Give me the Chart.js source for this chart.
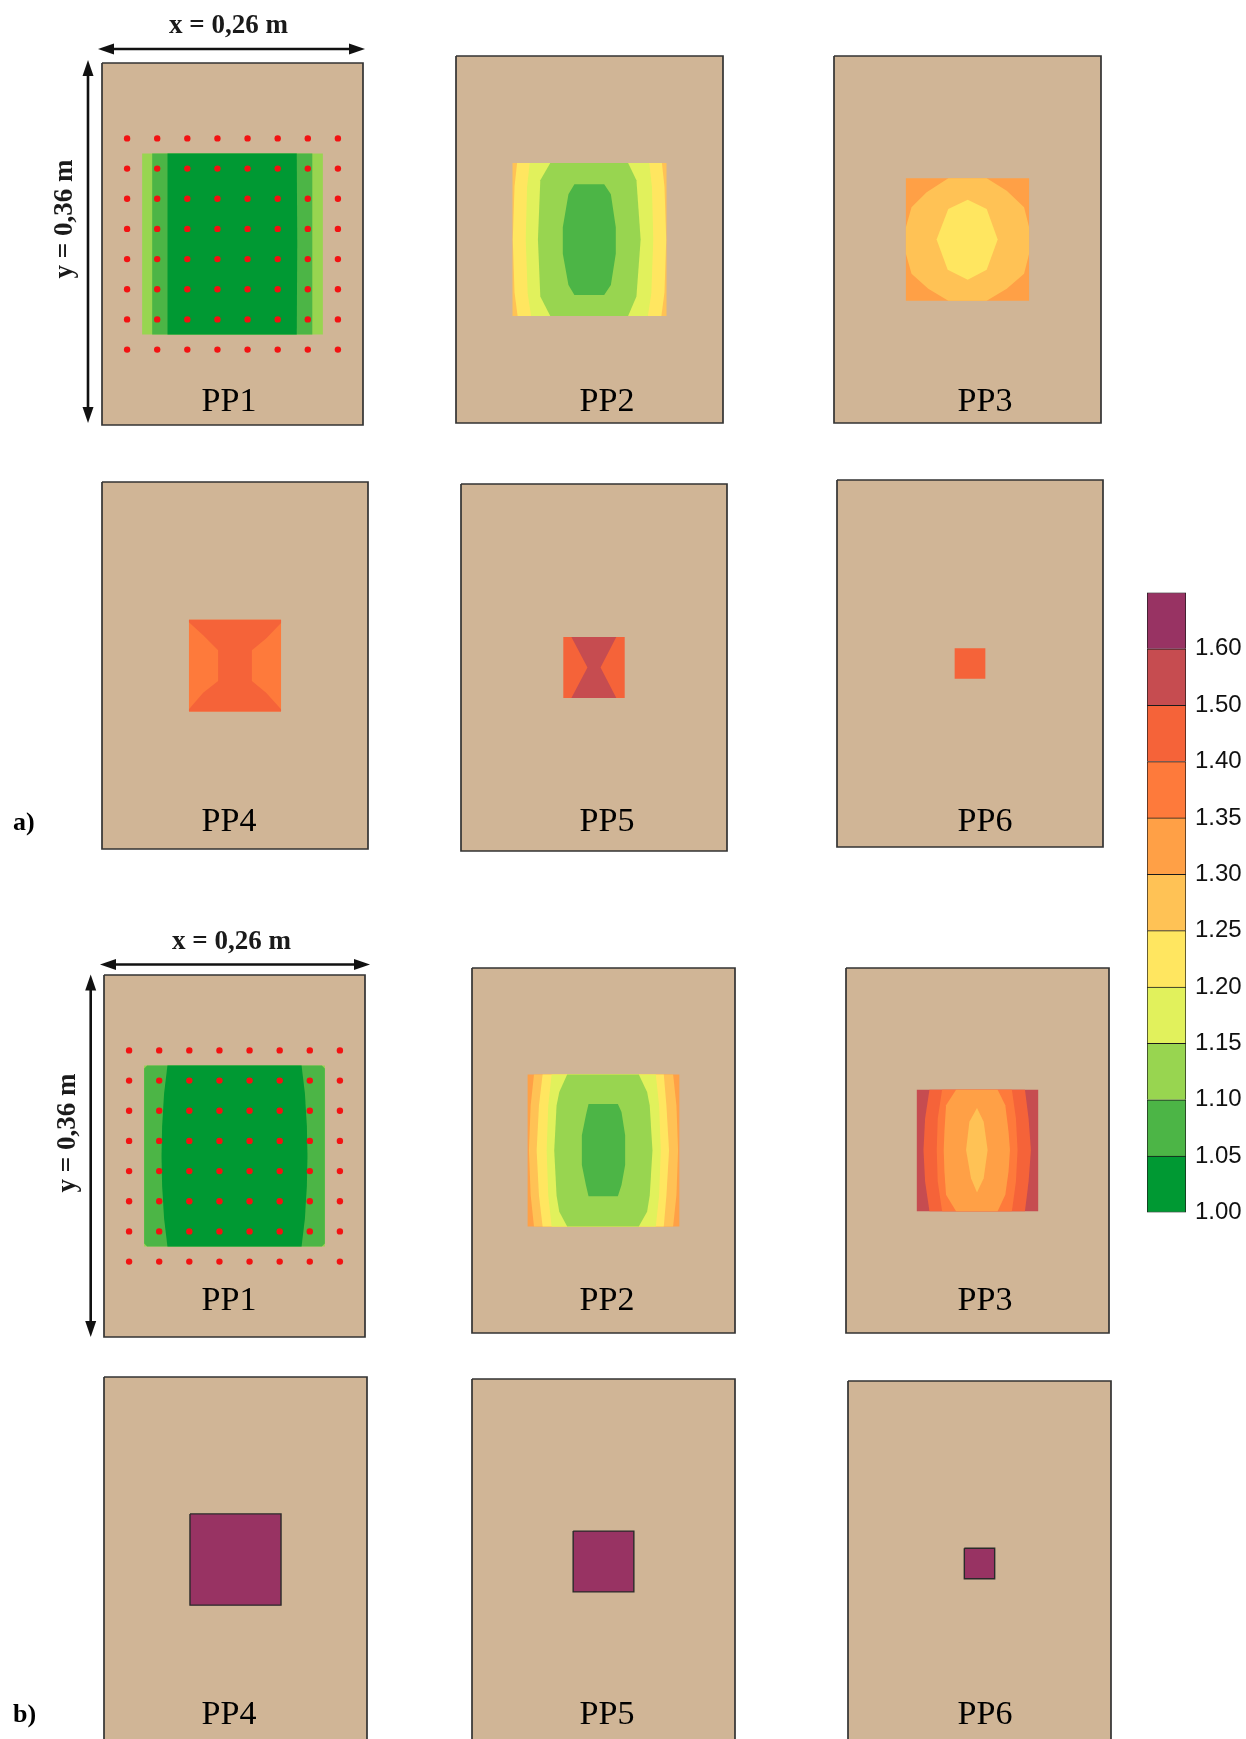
<!DOCTYPE html>
<html><head><meta charset="utf-8">
<script src="https://cdn.jsdelivr.net/npm/chart.js@4.4.1/dist/chart.umd.min.js"></script>
<style>
html,body{margin:0;padding:0;background:#fff;}
body{width:1246px;height:1739px;position:relative;overflow:hidden;}
canvas.pc{position:absolute;}
#ov{position:absolute;left:0;top:0;z-index:10;pointer-events:none;}
</style></head><body>
<script>
// ---------------- DATA ----------------
// class colours (index 0 = 1.00–1.05 ... index 10 = >1.60)
const LEVEL_COLORS = ['#009933','#4CB546','#98D550','#E1F15C','#FFE660','#FFC255','#FFA046','#FE7A3B','#F56339','#C64C50','#983363'];
const LEVEL_TICKS = ['1.00','1.05','1.10','1.15','1.20','1.25','1.30','1.35','1.40','1.50','1.60',''];
const TAN = '#D0B596';
const SLAB_W = 0.26, SLAB_H = 0.36;               // metres
const SLAB = [[0,0],[0.26,0],[0.26,0.36],[0,0.36]];
const DOT_X = [0.025,0.055,0.085,0.115,0.145,0.175,0.205,0.235];
const DOT_Y = [0.075,0.105,0.135,0.165,0.195,0.225,0.255,0.285];
const PANEL_NAMES = ['PP1','PP2','PP3','PP4','PP5','PP6'];

// contour polygons: [class index, [[x, y-from-top], ...]]  (outer -> inner)
const A_PP1 = [
  [2,[[0.04,0.09],[0.22,0.09],[0.22,0.27],[0.04,0.27]]],
  [1,[[0.050,0.09],[0.2095,0.09],[0.2095,0.27],[0.050,0.27]]],
  [0,[[0.0655,0.09],[0.194,0.09],[0.1945,0.18],[0.194,0.27],[0.0655,0.27],[0.065,0.18]]]
];
const A_PP2 = [
  [5,[[0.055,0.105],[0.205,0.105],[0.205,0.255],[0.055,0.255]]],
  [4,[[0.0595,0.105],[0.2005,0.105],[0.203,0.128],[0.2047,0.18],[0.203,0.232],[0.200,0.255],[0.060,0.255],[0.057,0.232],[0.0553,0.18],[0.057,0.128]]],
  [3,[[0.0718,0.105],[0.1882,0.105],[0.1908,0.1285],[0.1921,0.18],[0.1902,0.2328],[0.1869,0.255],[0.0731,0.255],[0.0698,0.2328],[0.0679,0.18],[0.0692,0.1285]]],
  [2,[[0.0918,0.105],[0.1676,0.105],[0.1757,0.122],[0.1798,0.18],[0.1757,0.236],[0.1676,0.255],[0.0918,0.255],[0.0821,0.236],[0.0798,0.18],[0.0821,0.122]]],
  [1,[[0.1153,0.1259],[0.1443,0.1259],[0.1508,0.1357],[0.1556,0.168],[0.1556,0.194],[0.1508,0.2247],[0.1443,0.2344],[0.1153,0.2344],[0.1095,0.2247],[0.104,0.194],[0.104,0.168],[0.1095,0.1357]]]
];
const A_PP3 = [
  [6,[[0.07,0.12],[0.19,0.12],[0.19,0.24],[0.07,0.24]]],
  [5,[[0.1113,0.12],[0.1487,0.12],[0.1682,0.1321],[0.1851,0.1484],[0.19,0.1679],[0.19,0.194],[0.1851,0.2136],[0.1682,0.2283],[0.1487,0.24],[0.1113,0.24],[0.0918,0.2283],[0.0755,0.2136],[0.07,0.194],[0.07,0.1679],[0.0755,0.1484],[0.0902,0.1337]]],
  [4,[[0.1302,0.1409],[0.1487,0.15],[0.1594,0.18],[0.1487,0.2097],[0.1302,0.2195],[0.1107,0.2097],[0.0999,0.18],[0.1113,0.15]]]
];
const A_PP4 = [
  [7,[[0.085,0.135],[0.175,0.135],[0.175,0.225],[0.085,0.225]]],
  [8,[[0.085,0.135],[0.175,0.135],[0.175,0.1383],[0.1604,0.1536],[0.1465,0.165],[0.1465,0.1953],[0.1604,0.2067],[0.175,0.223],[0.175,0.225],[0.085,0.225],[0.085,0.223],[0.0989,0.2067],[0.1135,0.1953],[0.1135,0.165],[0.0989,0.1503],[0.085,0.1376]]]
];
const A_PP5 = [
  [8,[[0.10,0.15],[0.16,0.15],[0.16,0.21],[0.10,0.21]]],
  [9,[[0.1079,0.15],[0.1518,0.15],[0.1364,0.18],[0.1518,0.21],[0.1079,0.21],[0.1236,0.18]]]
];
const A_PP6 = [
  [8,[[0.115,0.165],[0.145,0.165],[0.145,0.195],[0.115,0.195]]]
];
const B_PP1 = [
  [2,[[0.04,0.09],[0.22,0.09],[0.22,0.27],[0.04,0.27]]],
  [1,[[0.043,0.09],[0.217,0.09],[0.22,0.093],[0.22,0.267],[0.217,0.27],[0.043,0.27],[0.04,0.267],[0.04,0.093]]],
  [0,[[0.0632,0.09],[0.1968,0.09],[0.2001,0.1174],[0.2021,0.1504],[0.2027,0.18],[0.2021,0.2096],[0.2001,0.2426],[0.1968,0.27],[0.0632,0.27],[0.0599,0.2426],[0.0579,0.2096],[0.0573,0.18],[0.0579,0.1504],[0.0599,0.1174]]]
];
const B_PP2 = [
  [6,[[0.055,0.105],[0.205,0.105],[0.205,0.255],[0.055,0.255]]],
  [5,[[0.0613,0.105],[0.1988,0.105],[0.2021,0.1355],[0.2037,0.1797],[0.2021,0.2239],[0.1988,0.255],[0.0613,0.255],[0.058,0.2239],[0.0563,0.1797],[0.058,0.1355]]],
  [4,[[0.0698,0.105],[0.1896,0.105],[0.1922,0.1355],[0.1948,0.18],[0.1922,0.2245],[0.1896,0.255],[0.0698,0.255],[0.0662,0.2245],[0.0639,0.18],[0.0662,0.1355]]],
  [3,[[0.0787,0.105],[0.1817,0.105],[0.185,0.1355],[0.1866,0.18],[0.185,0.2245],[0.1817,0.255],[0.0787,0.255],[0.0754,0.2245],[0.0738,0.18],[0.0754,0.1355]]],
  [2,[[0.0941,0.105],[0.1649,0.105],[0.1731,0.1224],[0.1757,0.1355],[0.1784,0.18],[0.1757,0.2245],[0.1731,0.2403],[0.1649,0.255],[0.0941,0.255],[0.0863,0.2403],[0.0836,0.2245],[0.0813,0.18],[0.0836,0.1355],[0.0863,0.1224]]],
  [1,[[0.1152,0.1341],[0.1442,0.1341],[0.1478,0.142],[0.1514,0.1649],[0.1514,0.1944],[0.1478,0.2141],[0.1442,0.2252],[0.1152,0.2252],[0.1126,0.2141],[0.1086,0.1944],[0.1086,0.1649],[0.1126,0.1453]]]
];
const B_PP3 = [
  [9,[[0.07,0.12],[0.19,0.12],[0.19,0.24],[0.07,0.24]]],
  [8,[[0.0825,0.12],[0.1769,0.12],[0.1805,0.1484],[0.1828,0.1795],[0.1805,0.2106],[0.1769,0.24],[0.0825,0.24],[0.0782,0.2106],[0.0766,0.1795],[0.0782,0.1484]]],
  [7,[[0.095,0.12],[0.164,0.12],[0.168,0.1484],[0.1696,0.1795],[0.168,0.2106],[0.164,0.24],[0.095,0.24],[0.0907,0.2106],[0.0897,0.1795],[0.0907,0.1484]]],
  [6,[[0.1088,0.12],[0.1499,0.12],[0.1575,0.1354],[0.1607,0.1615],[0.1621,0.1795],[0.1607,0.2008],[0.1575,0.2237],[0.1499,0.24],[0.1088,0.24],[0.0989,0.2237],[0.0973,0.2008],[0.0966,0.1795],[0.0973,0.1615],[0.0989,0.1354]]],
  [5,[[0.1295,0.138],[0.1361,0.1517],[0.14,0.1795],[0.1361,0.2073],[0.1295,0.2214],[0.1236,0.2073],[0.1187,0.1795],[0.122,0.1517]]]
];
const B_PP4 = [[10,[[0.085,0.135],[0.175,0.135],[0.175,0.225],[0.085,0.225]]]];
const B_PP5 = [[10,[[0.10,0.15],[0.16,0.15],[0.16,0.21],[0.10,0.21]]]];
const B_PP6 = [[10,[[0.115,0.165],[0.145,0.165],[0.145,0.195],[0.115,0.195]]]];

// ---------------- LAYOUT (pixels) ----------------
const PANELS = [
  {box:[101,62,263,364],  polys:A_PP1, dots:true},
  {box:[456,56,267,367],  polys:A_PP2},
  {box:[834,56,267,367],  polys:A_PP3},
  {box:[102,482,266,367], polys:A_PP4},
  {box:[461,484,266,367], polys:A_PP5},
  {box:[837,480,266,367], polys:A_PP6},
  {box:[103,974,263,364], polys:B_PP1, dots:true},
  {box:[472,968,263,365], polys:B_PP2},
  {box:[846,968,263,365], polys:B_PP3},
  {box:[104,1377,263,365],polys:B_PP4},
  {box:[472,1379,263,365],polys:B_PP5},
  {box:[848,1381,263,365],polys:B_PP6}
];
const LABEL_X = [229,607,985];
const LABEL_BASE = [411,831,1310,1724];

const PAD = 3;
const dotPts = [];
DOT_Y.forEach(y => DOT_X.forEach(x => dotPts.push({x, y})));

function toPts(arr){ const p = arr.map(a => ({x:a[0], y:a[1]})); p.push({x:arr[0][0], y:arr[0][1]}); return p; }

PANELS.forEach(pn => {
  const [L,T,W,H] = pn.box;
  const c = document.createElement('canvas');
  c.className = 'pc';
  c.width = W + 2*PAD; c.height = H + 2*PAD;
  c.style.left = (L-PAD)+'px'; c.style.top = (T-PAD)+'px';
  document.body.appendChild(c);
  const ds = [];
  if (pn.dots) ds.push({data: dotPts, showLine:false, pointRadius:3.2, pointBackgroundColor:'#F21212', pointBorderWidth:0, pointStyle:'circle'});
  for (let i = pn.polys.length-1; i >= 0; i--) {
    const [lvl, pts] = pn.polys[i];
    ds.push({data: toPts(pts), showLine:true, fill:'shape', backgroundColor: LEVEL_COLORS[lvl],
      borderColor:'#2a2a2a', borderWidth: lvl === 10 ? 1.4 : 0, pointRadius:0, tension:0});
  }
  ds.push({data: toPts(SLAB), showLine:true, fill:'shape', backgroundColor: TAN, borderColor:'#333333', borderWidth:1.7, pointRadius:0, tension:0, clip:false});
  new Chart(c, {type:'scatter', data:{datasets:ds}, options:{
    responsive:false, animation:false, events:[],
    layout:{padding:PAD},
    plugins:{legend:{display:false}, tooltip:{enabled:false}},
    scales:{x:{type:'linear', min:0, max:SLAB_W, display:false},
            y:{type:'linear', min:0, max:SLAB_H, reverse:true, display:false}}
  }});
});

// colour bar
(function(){
  const c = document.createElement('canvas');
  c.className = 'pc';
  c.width = 99; c.height = 647;
  c.style.left = '1147px'; c.style.top = '579px';
  document.body.appendChild(c);
  new Chart(c, {type:'bar', data:{labels:[''], datasets: LEVEL_COLORS.map((col,i) => ({
      data:[1], backgroundColor:col, borderColor:'#1a1a1a',
      borderWidth:{top:1, bottom: i===0?1:0, left:1, right:1}, borderSkipped:false,
      barPercentage:1, categoryPercentage:1}))},
    options:{responsive:false, animation:false, events:[],
      layout:{padding:{top:13.5, bottom:13.5, left:0, right:0}},
      plugins:{legend:{display:false}, tooltip:{enabled:false}},
      scales:{x:{stacked:true, display:false},
        y:{stacked:true, position:'right', min:0, max:11,
           grid:{display:false, drawTicks:false}, border:{display:false},
           ticks:{stepSize:1, autoSkip:false, padding:9, color:'#111',
                  font:{family:'Liberation Sans, Arial, sans-serif', size:24},
                  callback:(v) => LEVEL_TICKS[v] ?? ''},
           afterFit:(s) => { s.width = 60; s.paddingTop = 0; s.paddingBottom = 0; }}}}
  });
})();

// overlay: arrows + text
(function(){
  const NS = 'http://www.w3.org/2000/svg';
  const svg = document.createElementNS(NS,'svg');
  svg.id = 'ov'; svg.setAttribute('width','1246'); svg.setAttribute('height','1739');
  document.body.appendChild(svg);
  function el(tag, attrs, txt){ const e = document.createElementNS(NS, tag); for (const k in attrs) e.setAttribute(k, attrs[k]); if (txt) e.textContent = txt; svg.appendChild(e); return e; }
  function hArrow(y, x1, x2){
    el('line',{x1:x1+12,y1:y,x2:x2-12,y2:y,stroke:'#111','stroke-width':2.6});
    el('polygon',{points:`${x1},${y} ${x1+16},${y-5.5} ${x1+16},${y+5.5}`,fill:'#111'});
    el('polygon',{points:`${x2},${y} ${x2-16},${y-5.5} ${x2-16},${y+5.5}`,fill:'#111'});
  }
  function vArrow(x, y1, y2){
    el('line',{x1:x,y1:y1+12,x2:x,y2:y2-12,stroke:'#111','stroke-width':2.6});
    el('polygon',{points:`${x},${y1} ${x-5.5},${y1+16} ${x+5.5},${y1+16}`,fill:'#111'});
    el('polygon',{points:`${x},${y2} ${x-5.5},${y2-16} ${x+5.5},${y2-16}`,fill:'#111'});
  }
  hArrow(49, 98, 365); vArrow(88, 60, 423);
  hArrow(964.5, 100, 370); vArrow(90.7, 974.5, 1337);
  const dimFont = {'font-family':'Liberation Serif, Times New Roman, serif','font-weight':'bold','font-size':27,fill:'#1a1a1a','text-anchor':'middle'};
  el('text', Object.assign({x:228.5, y:33}, dimFont), 'x = 0,26 m');
  el('text', Object.assign({x:231.5, y:949}, dimFont), 'x = 0,26 m');
  el('text', Object.assign({x:0, y:0, transform:'translate(72,219) rotate(-90)'}, dimFont), 'y = 0,36 m');
  el('text', Object.assign({x:0, y:0, transform:'translate(75,1133) rotate(-90)'}, dimFont), 'y = 0,36 m');
  const lblFont = {'font-family':'Liberation Serif, Times New Roman, serif','font-size':34,fill:'#000','text-anchor':'middle'};
  for (let r = 0; r < 4; r++) for (let k = 0; k < 3; k++) {
    el('text', Object.assign({x:LABEL_X[k], y:LABEL_BASE[r]}, lblFont), PANEL_NAMES[(r%2)*3 + k]);
  }
  const tagFont = {'font-family':'Liberation Serif, Times New Roman, serif','font-weight':'bold','font-size':26,fill:'#000'};
  el('text', Object.assign({x:13, y:830}, tagFont), 'a)');
  el('text', Object.assign({x:13, y:1722}, tagFont), 'b)');
})();
</script>
</body></html>
